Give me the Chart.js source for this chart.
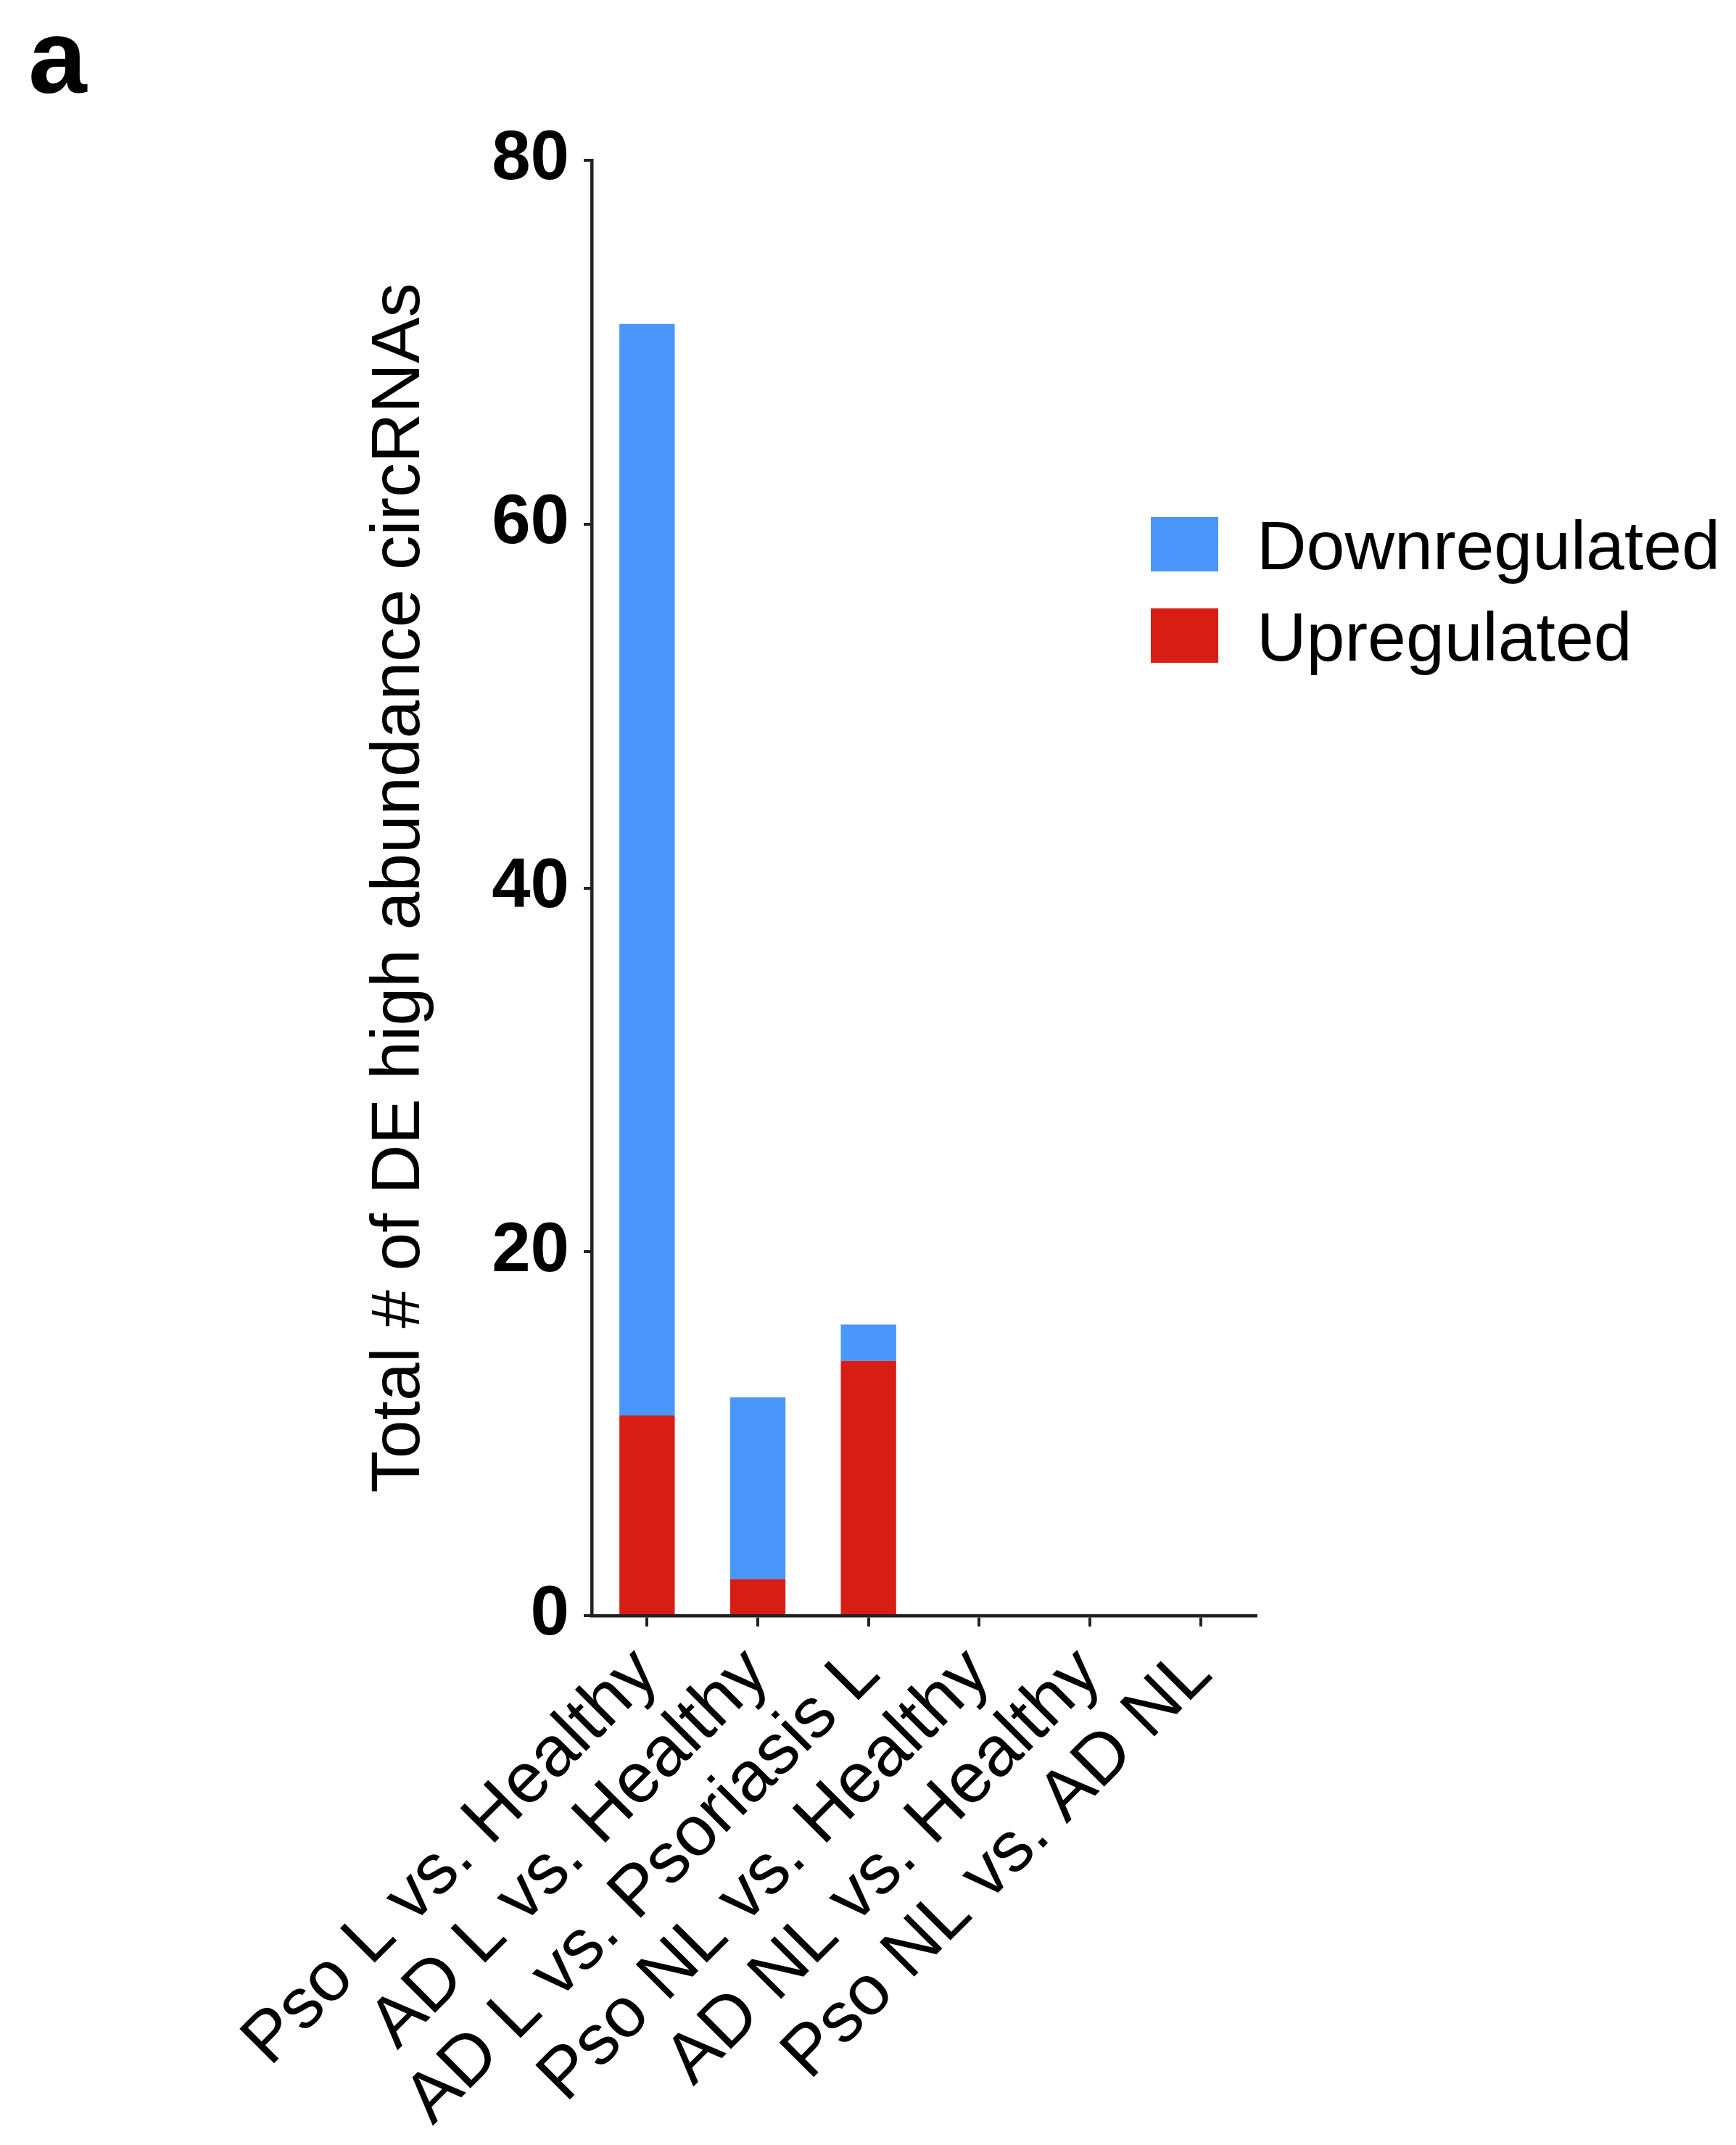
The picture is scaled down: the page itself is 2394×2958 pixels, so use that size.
<!DOCTYPE html>
<html>
<head>
<meta charset="utf-8">
<script src="https://cdn.jsdelivr.net/npm/chart.js@4.4.1/dist/chart.umd.min.js"></script>
<style>
  html, body { margin: 0; padding: 0; background: #ffffff; }
  #wrap { position: relative; width: 2394px; height: 2958px; background: #ffffff; overflow: hidden; }
  #chart { position: absolute; left: 0; top: 0; }
  .panel { position: absolute; left: 39px; top: 6px; font-family: 'Liberation Sans', Arial, Helvetica, sans-serif; font-weight: bold; font-size: 145px; line-height: 1; color: #000; }
  .lg-box { position: absolute; left: 1587px; width: 93px; height: 75px; }
  .lg-text { position: absolute; left: 1733px; font-family: 'Liberation Sans', Arial, Helvetica, sans-serif; font-size: 95px; line-height: 1; color: #000; white-space: nowrap; }
</style>
</head>
<body>
<div id="wrap">
  <canvas id="chart" width="2394" height="2958"></canvas>
  <div class="panel">a</div>
  <div id="legend"></div>
</div>
<script>
// ---- data ----
const categories = ["Pso L vs. Healthy", "AD L vs. Healthy", "AD L vs. Psoriasis L", "Pso NL vs. Healthy", "AD NL vs. Healthy", "Pso NL vs. AD NL"];
const upregulated = [11, 2, 14, 0, 0, 0];
const downregulated = [60, 10, 2, 0, 0, 0];
const yTicks = [0, 20, 40, 60, 80];
const seriesNames = ["Downregulated", "Upregulated"];
const seriesColors = ["#4A96FA", "#D81E14"];

const FONT = "'Liberation Sans', Arial, Helvetica, sans-serif";

// HTML legend
const legend = document.getElementById('legend');
const legendTops = [713, 839];
const legendTextTops = [705, 831];
seriesNames.forEach((name, i) => {
  const b = document.createElement('div');
  b.className = 'lg-box';
  b.style.top = legendTops[i] + 'px';
  b.style.background = seriesColors[i];
  legend.appendChild(b);
  const t = document.createElement('div');
  t.className = 'lg-text';
  t.style.top = legendTextTops[i] + 'px';
  t.textContent = name;
  legend.appendChild(t);
});

const LEFT_PAD = 495, PLOT_LEFT = 816, PLOT_RIGHT = 1732, PLOT_TOP = 221, PLOT_BOTTOM = 2228;
const W = 2394, H = 2958;

new Chart(document.getElementById('chart'), {
  type: 'bar',
  data: {
    labels: categories,
    datasets: [
      { label: seriesNames[1], data: upregulated, backgroundColor: seriesColors[1], borderWidth: 0 },
      { label: seriesNames[0], data: downregulated, backgroundColor: seriesColors[0], borderWidth: 0 }
    ]
  },
  options: {
    responsive: false,
    animation: false,
    devicePixelRatio: 1,
    layout: { padding: { left: LEFT_PAD, right: W - PLOT_RIGHT, top: PLOT_TOP, bottom: 0 } },
    plugins: { legend: { display: false }, tooltip: { enabled: false } },
    datasets: { bar: { barPercentage: 0.5, categoryPercentage: 1.0 } },
    scales: {
      x: {
        stacked: true,
        offset: true,
        grid: { display: true, offset: false, drawOnChartArea: false, drawTicks: true, tickLength: 15, color: '#222', lineWidth: 4 },
        border: { display: true, color: '#222', width: 4.5 },
        ticks: {
          autoSkip: false, minRotation: 45, maxRotation: 45, padding: 8,
          color: '#000', font: { family: FONT, size: 98 }
        },
        afterFit: (s) => { s.height = H - PLOT_BOTTOM; }
      },
      y: {
        stacked: true,
        min: 0, max: 80,
        afterBuildTicks: (s) => { s.ticks = yTicks.map(v => ({ value: v })); },
        grid: { display: true, drawOnChartArea: false, drawTicks: true, tickLength: 11, color: '#222', lineWidth: 4 },
        border: { display: true, color: '#222', width: 4.5 },
        ticks: { padding: 20, color: '#000', font: { family: FONT, size: 96, weight: 'bold' } },
        title: {
          display: true, text: 'Total # of DE high abundance circRNAs',
          color: '#000', font: { family: FONT, size: 95, weight: 'normal' },
          padding: { top: 0, bottom: 0 }
        },
        afterFit: (s) => { s.width = PLOT_LEFT - LEFT_PAD; }
      }
    }
  }
});
</script>
</body>
</html>
